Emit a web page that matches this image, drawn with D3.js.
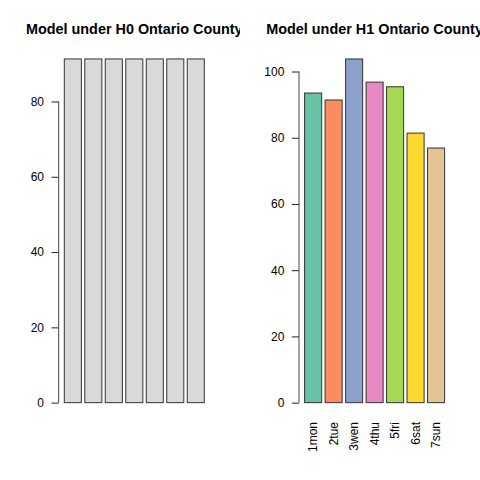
<!DOCTYPE html>
<html>
<head>
<meta charset="utf-8">
<script src="https://cdn.jsdelivr.net/npm/d3@7"></script>
<style>
  body { margin: 0; background: #fff; }
  text { font-family: "Liberation Sans", Arial, sans-serif; }
</style>
</head>
<body>
<div id="chart"></div>
<script>
// data
const days = ["1mon", "2tue", "3wen", "4thu", "5fri", "6sat", "7sun"];
const h0Values = [91.3, 91.3, 91.3, 91.3, 91.3, 91.3, 91.3];
const h1Values = [93.5, 91.4, 103.8, 96.8, 95.4, 81.4, 76.9];
const h1Colors = ["#66C2A5", "#FC8D62", "#8DA0CB", "#E78AC3", "#A6D854", "#FFD92F", "#E5C494"];
const titles = ["Model under H0 Ontario County", "Model under H1 Ontario County"];

const width = 480, height = 480;

const svg = d3.select("#chart").append("svg")
  .attr("width", width)
  .attr("height", height);

// each panel is 240 wide, the plot area sits inside it like R's default margins
const panels = [
  {x0: 0, left: 58.7, right: 209.9, values: h0Values, colors: null, title: titles[0], labels: false},
  {x0: 240, left: 299, right: 450.2, values: h1Values, colors: h1Colors, title: titles[1], labels: true}
];
const plotTop = 45.2, plotBottom = 416.4;

panels.forEach(function(p, i){
  // clip to the panel (titles get cut off at the edge)
  svg.append("clipPath").attr("id", "clip" + i)
    .append("rect").attr("x", p.x0).attr("y", 0).attr("width", 240).attr("height", height);

  const g = svg.append("g").attr("clip-path", "url(#clip" + i + ")");

  const x = d3.scaleBand()
    .domain(days)
    .range([p.left, p.right])
    .paddingInner(0.2 / 1.2)
    .paddingOuter(0.2733);

  const maxV = d3.max(p.values);
  const ext = 0.04 * maxV; // R extends ylim by 4%
  const y = d3.scaleLinear()
    .domain([-ext, maxV + ext])
    .range([plotBottom, plotTop]);

  g.selectAll(".bar")
    .data(p.values)
    .enter().append("rect")
    .attr("class", "bar")
    .attr("x", function(d, j){ return x(days[j]); })
    .attr("y", function(d){ return y(d); })
    .attr("width", x.bandwidth())
    .attr("height", function(d){ return y(0) - y(d); })
    .attr("fill", function(d, j){ return p.colors ? p.colors[j] : "#D9D9D9"; })
    .attr("stroke", "#333")
    .attr("stroke-width", 1);

  // y axis, line only from first to last tick like R
  const ticks = y.ticks(5).filter(function(t){ return t >= 0; });
  const axis = d3.axisLeft(y)
    .tickValues(ticks)
    .tickSizeOuter(0)
    .tickSizeInner(7.2)
    .tickPadding(7.5);
  const ax = g.append("g")
    .attr("transform", "translate(" + p.left + ",0)")
    .call(axis);
  ax.select(".domain").remove();
  ax.selectAll(".tick line").attr("stroke", "#222");
  ax.selectAll(".tick text")
    .attr("font-size", 12)
    .attr("fill", "#000")
    .style("font-family", '"Liberation Sans", Arial, sans-serif');
  ax.append("line")
    .attr("x1", 0).attr("x2", 0)
    .attr("y1", y(ticks[0])).attr("y2", y(ticks[ticks.length - 1]))
    .attr("stroke", "#444")
    .attr("stroke-width", 1);

  // title
  g.append("text")
    .attr("x", (p.left + p.right) / 2)
    .attr("y", 34)
    .attr("text-anchor", "middle")
    .attr("font-size", 14.4)
    .attr("font-weight", "bold")
    .text(p.title);

  // rotated category labels (only on H1)
  if (p.labels) {
    g.selectAll(".xlab")
      .data(days)
      .enter().append("text")
      .attr("class", "xlab")
      .attr("transform", function(d){
        return "translate(" + (x(d) + x.bandwidth() / 2) + "," + 422 + ") rotate(-90)";
      })
      .attr("text-anchor", "end")
      .attr("dy", "0.35em")
      .attr("font-size", 12)
      .text(function(d){ return d; });
  }
});
</script>
</body>
</html>
